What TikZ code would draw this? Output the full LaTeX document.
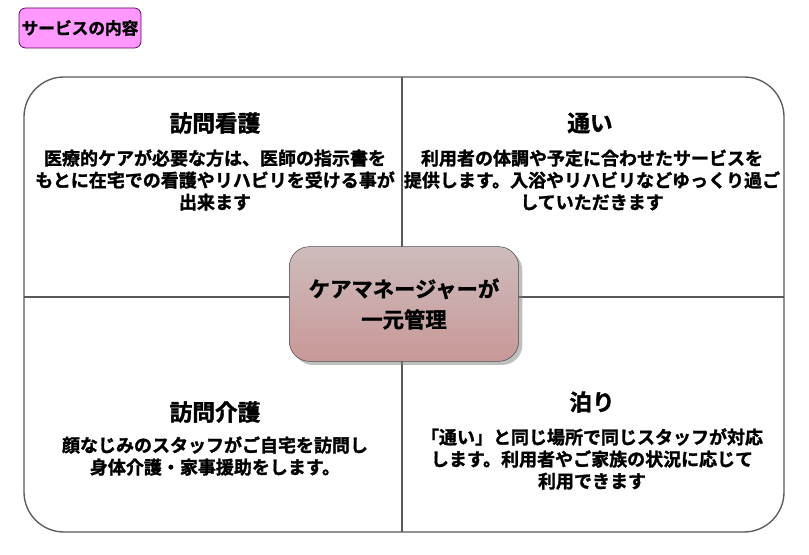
\documentclass[tikz,border=0pt]{standalone}
\usepackage{fontspec}
\setmainfont{Noto Sans CJK JP}[BoldFont={Noto Sans CJK JP Bold},BoldFeatures={FakeBold=1.5}]
\usetikzlibrary{shadows}
\begin{document}
\begin{tikzpicture}[x=0.75pt,y=-0.75pt,
  ttl/.style={font=\bfseries\fontsize{17}{20}\selectfont,align=center},
  body/.style={font=\bfseries\fontsize{13.5}{16.5}\selectfont,align=center}]
\useasboundingbox (0,0) rectangle (809,555);
\node[draw=violet!70!black,fill={rgb,255:red,255;green,153;blue,255},rounded corners=5pt,minimum width=90pt,minimum height=30pt,inner sep=2pt,font=\bfseries\fontsize{12.5}{14}\selectfont,line width=0.6pt] (t) at (80,28) {サービスの内容};
\draw[gray!70!black,line width=1pt,rounded corners=30pt,fill=white] (24,77) rectangle (784,532);
\coordinate (n) at (402,77); \coordinate (s) at (402,532);
\coordinate (w) at (24,297); \coordinate (e) at (784,297);
\draw[gray!70!black,line width=1pt] (n)--(s) (w)--(e);
\node[draw=gray!60!black,rounded corners=15pt,minimum width=172pt,minimum height=86pt,top color={rgb,255:red,205;green,188;blue,188},bottom color={rgb,255:red,201;green,152;blue,152},drop shadow={opacity=0.5},font=\bfseries\fontsize{16}{23}\selectfont,align=center] (c) at (404,304) {ケアマネージャーが\\一元管理};
\node[ttl] (a1) at (215,123) {訪問看護};
\node[body] (a2) at (215,180) {医療的ケアが必要な方は、医師の指示書を\\もとに在宅での看護やリハビリを受ける事が\\出来ます};
\node[ttl] (b1) at (590,123) {通い};
\node[body] (b2) at (592,180) {利用者の体調や予定に合わせたサービスを\\提供します。入浴やリハビリなどゆっくり過ご\\していただきます};
\node[ttl] (c1) at (215,412) {訪問介護};
\node[body] (c2) at (215,456) {顔なじみのスタッフがご自宅を訪問し\\身体介護・家事援助をします。};
\node[ttl] (d1) at (592,402) {泊り};
\node[body] (d2) at (592,459) {「通い」と同じ場所で同じスタッフが対応\\します。利用者やご家族の状況に応じて\\利用できます};
\end{tikzpicture}
\end{document}
